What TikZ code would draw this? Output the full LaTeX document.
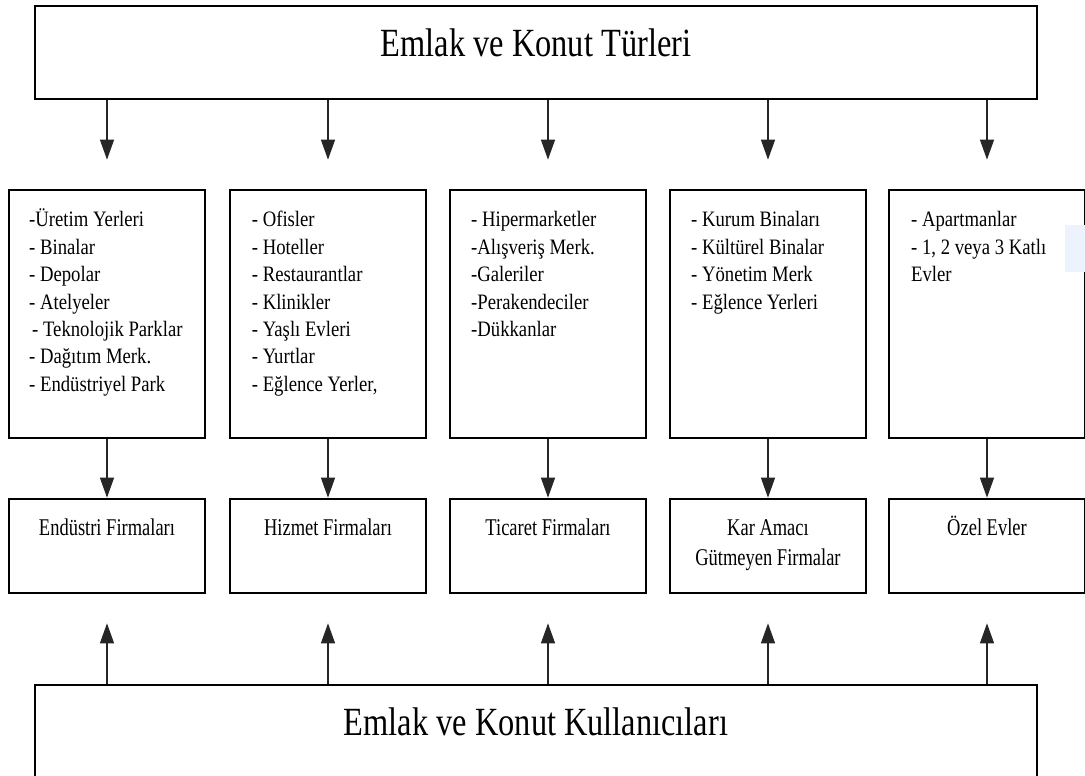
\documentclass[tikz,border=0pt]{standalone}
\usepackage{fontspec}
\setmainfont{Liberation Serif}
\newfontfamily\titlefont[FakeStretch=0.81]{Liberation Serif}
\newfontfamily\listfont[FakeStretch=0.85]{Liberation Serif}
\newfontfamily\labelfont[FakeStretch=0.77]{Liberation Serif}
\usetikzlibrary{arrows.meta}
\newcommand\lineup[1]{\rule{0pt}{#1}}
\definecolor{haze}{RGB}{236,243,252}

\begin{document}
\begin{tikzpicture}[x=1pt,y=-1pt,
  box/.style={draw=black,line width=2.7pt,fill=white,inner sep=0pt},
  colbox/.style={box,minimum width=196pt,minimum height=248pt},
  firmbox/.style={box,minimum width=196pt,minimum height=94pt},
  widebox/.style={box,minimum width=1002pt},
  title/.style={font=\titlefont\fontsize{40}{44}\selectfont,inner sep=0pt},
  items/.style={font=\listfont\fontsize{22}{27.4}\selectfont,align=left,anchor=north west,inner sep=0pt},
  firm/.style={font=\labelfont\fontsize{24}{30}\selectfont,align=center,anchor=north,inner sep=0pt},
  arr/.style={draw=black!85,line width=1.2pt,-{Triangle[length=20pt,width=14pt]}}]

\clip (0,0) rectangle (1085,776);
\fill[white] (0,0) rectangle (1085,776);

% outer boxes
\node[widebox,minimum height=93pt] (top) at (536,52.5) {};
\node[widebox,minimum height=150pt] (bottom) at (536,760) {};
\node[title,anchor=base] (toptext) at (536,56.7) {Emlak ve Konut Türleri};
\node[title,anchor=base] (bottomtext) at (536,735) {Emlak ve Konut Kullanıcıları};

% property type columns
\foreach \i/\x in {1/107,2/328,3/548,4/768,5/987}{
  \node[colbox] (m\i) at (\x,314) {};
  \node[firmbox] (l\i) at (\x,546) {};
}

% small highlight at the right margin
\fill[haze] (1065,225) rectangle (1085,272);

% column contents
\node[items] (t1) at (29,206.7) {\lineup{20pt}-Üretim Yerleri\\- Binalar\\- Depolar\\- Atelyeler\\\hspace{3pt}- Teknolojik Parklar\\- Dağıtım Merk.\\- Endüstriyel Park};
\node[items] (t2) at (251.7,206.7) {\lineup{20pt}- Ofisler\\- Hoteller\\- Restaurantlar\\- Klinikler\\- Yaşlı Evleri\\- Yurtlar\\- Eğlence Yerler,};
\node[items] (t3) at (471,206.7) {\lineup{20pt}- Hipermarketler\\-Alışveriş Merk.\\-Galeriler\\-Perakendeciler\\-Dükkanlar};
\node[items] (t4) at (691,206.7) {\lineup{20pt}- Kurum Binaları\\- Kültürel Binalar\\- Yönetim Merk\\- Eğlence Yerleri};
\node[items] (t5) at (911,206.7) {\lineup{20pt}- Apartmanlar\\- 1, 2 veya 3 Katlı\\Evler};

% firm labels
\node[firm] (f1) at (107,513) {\lineup{22pt}Endüstri Firmaları};
\node[firm] (f2) at (328,513) {\lineup{22pt}Hizmet Firmaları};
\node[firm] (f3) at (548,513) {\lineup{22pt}Ticaret Firmaları};
\node[firm] (f4) at (768,513) {\lineup{22pt}Kar Amacı\\Gütmeyen Firmalar};
\node[firm] (f5) at (987,513) {\lineup{22pt}Özel Evler};

% connectors
\foreach \i in {1,...,5}{
  \draw[arr,shorten >=29pt] (top.south -| m\i.north) -- (m\i.north);
  \draw[arr] (m\i) -- (l\i);
  \draw[arr,shorten >=29pt] (bottom.north -| l\i.south) -- (l\i.south);
}
\end{tikzpicture}
\end{document}
